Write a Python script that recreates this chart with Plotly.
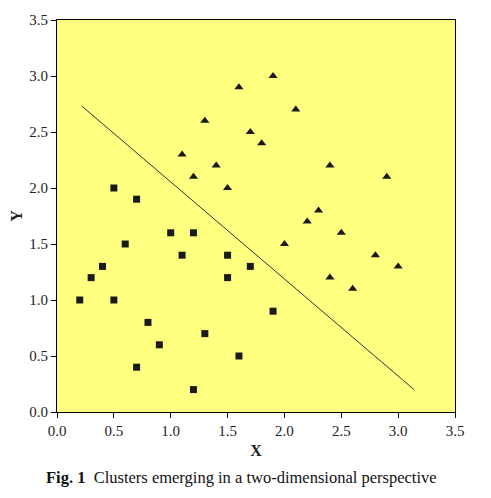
import plotly.graph_objects as go

# cluster A (squares)
sq_x = [0.2, 0.3, 0.4, 0.5, 0.5, 0.6, 0.7, 0.7, 0.8, 0.9, 1.0, 1.1, 1.2, 1.2, 1.3, 1.5, 1.5, 1.6, 1.7, 1.9]
sq_y = [1.0, 1.2, 1.3, 2.0, 1.0, 1.5, 1.9, 0.4, 0.8, 0.6, 1.6, 1.4, 1.6, 0.2, 0.7, 1.4, 1.2, 0.5, 1.3, 0.9]

# cluster B (triangles)
tri_x = [1.1, 1.2, 1.3, 1.4, 1.5, 1.6, 1.7, 1.8, 1.9, 2.0, 2.1, 2.2, 2.3, 2.4, 2.4, 2.5, 2.6, 2.8, 2.9, 3.0]
tri_y = [2.3, 2.1, 2.6, 2.2, 2.0, 2.9, 2.5, 2.4, 3.0, 1.5, 2.7, 1.7, 1.8, 2.2, 1.2, 1.6, 1.1, 1.4, 2.1, 1.3]

# separating line
line_x = [0.22, 3.14]
line_y = [2.73, 0.2]

ticks = [0.0, 0.5, 1.0, 1.5, 2.0, 2.5, 3.0, 3.5]
tick_text = ['%.1f' % t for t in ticks]

serif = 'Liberation Serif'
ink = '#1a1a1a'

fig = go.Figure()

fig.add_trace(go.Scatter(x=line_x, y=line_y, mode='lines',
                         line=dict(color='#333333', width=1), showlegend=False))
fig.add_trace(go.Scatter(x=sq_x, y=sq_y, mode='markers',
                         marker=dict(symbol='square', size=7, color=ink), showlegend=False))
fig.add_trace(go.Scatter(x=tri_x, y=tri_y, mode='markers',
                         marker=dict(symbol='triangle-up', size=8, color=ink), showlegend=False))

axis_common = dict(
    range=[0, 3.5], tickvals=ticks, ticktext=tick_text, automargin=False,
    showgrid=False, zeroline=False, showline=True, linecolor='black', linewidth=1,
    mirror=True, ticks='outside', ticklen=5, tickcolor='black',
    tickfont=dict(family=serif, size=15, color='#222222'),
)

fig.update_xaxes(**axis_common, title=dict(text='<b>X</b>', font=dict(family=serif, size=16, color='#222222'), standoff=6))
fig.update_yaxes(**axis_common, title=dict(text='<b>Y</b>', font=dict(family=serif, size=16, color='#222222'), standoff=8))

fig.add_annotation(
    x=0.464, y=-0.166, xref='paper', yref='paper', showarrow=False,
    xanchor='center', yanchor='middle',
    text='<b>Fig. 1</b>  Clusters emerging in a two-dimensional perspective',
    font=dict(family=serif, size=16.5, color='#111111'),
)

# page body adds 8px offset, margins compensate
fig.update_layout(
    width=491, height=498,
    margin=dict(l=49, r=44, t=12, b=94),
    plot_bgcolor='#ffff80',
    paper_bgcolor='white',
)

fig.write_html("out.html")
